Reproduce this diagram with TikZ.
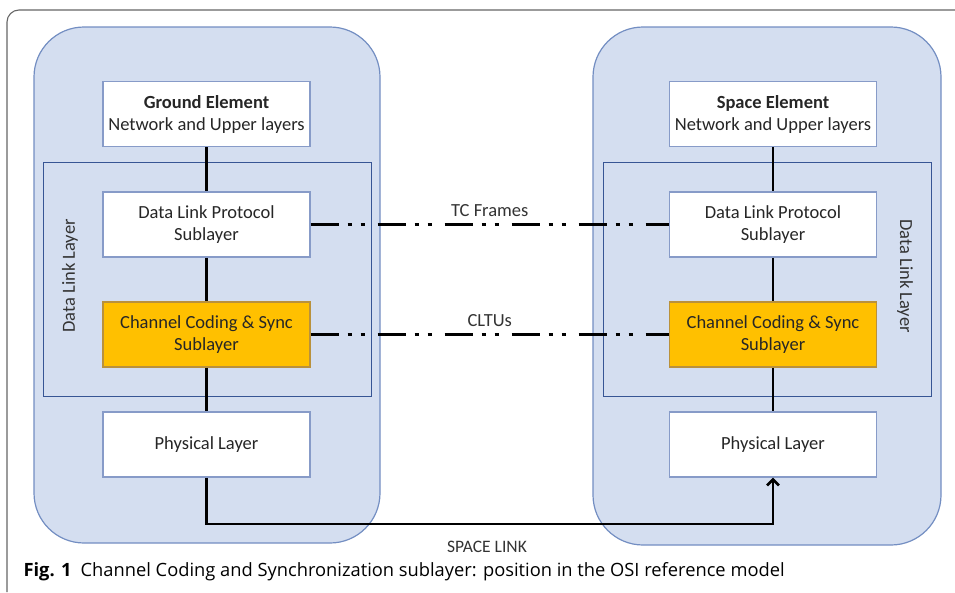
\documentclass[tikz,border=0pt]{standalone}
\usepackage{fontspec}
\setmainfont{Carlito}
\newfontfamily\capfont{Open Sans}
\usetikzlibrary{arrows.meta}

\definecolor{elemfill}{RGB}{212,222,240}
\definecolor{elemline}{RGB}{115,142,194}
\definecolor{dllline}{RGB}{55,85,148}
\definecolor{boxline}{RGB}{135,155,200}
\definecolor{ccfill}{RGB}{255,192,0}
\definecolor{ccline}{RGB}{185,145,60}

\begin{document}
\begin{tikzpicture}[x=1pt,y=-1pt,>={Straight Barb[length=6pt,width=12pt]},
  layer/.style={draw=boxline,fill=white,line width=1.2pt,minimum width=207pt,minimum height=65pt,
    inner sep=0pt,align=center,text=black!85,font=\fontsize{18.5}{22}\selectfont},
  link/.style={line width=2.6pt},
  frames/.style={line width=2.6pt,dash pattern=on 28pt off 9pt on 4pt off 9pt on 4pt off 13pt},
  lbl/.style={text=black!80,font=\fontsize{18.5}{22}\selectfont}]

\useasboundingbox (0,0) rectangle (955,592);

% figure frame
\draw[black!60,line width=1.1pt,rounded corners=12pt] (7,592) -- (7,10) -- (955,10);

% ground and space elements
\draw[fill=elemfill,draw=elemline,line width=1.2pt,rounded corners=50pt] (34,27) rectangle (380,543);
\draw[fill=elemfill,draw=elemline,line width=1.2pt,rounded corners=50pt] (593,27) rectangle (941,545);
\draw[draw=dllline,line width=1pt] (43,162) rectangle (371,396);
\draw[draw=dllline,line width=1pt] (603,162) rectangle (931,396);

\node[lbl,rotate=90] (g-dll) at (70,276) {Data Link Layer};
\node[lbl,rotate=-90] (s-dll) at (905,276) {Data Link Layer};

\foreach \s/\cx/\title in {g/206.5/Ground Element, s/773/Space Element} {
    \node[layer] (\s-top) at (\cx,114) {\textbf{\title}\\Network and Upper layers};
    \node[layer] (\s-dlp) at (\cx,224.5) {Data Link Protocol\\Sublayer};
    \node[layer,fill=ccfill,draw=ccline] (\s-cc) at (\cx,334.5) {Channel Coding \& Sync\\Sublayer};
    \node[layer] (\s-phy) at (\cx,444.5) {Physical Layer};
    \draw[link] (\s-top) -- (\s-dlp);
    \draw[link] (\s-dlp) -- (\s-cc);
    \draw[link] (\s-cc) -- (\s-phy);
}

% peer links
\draw[frames] (g-dlp) -- (s-dlp) node[lbl,midway,above=3pt]{TC Frames};
\draw[frames] (g-cc) -- (s-cc) node[lbl,midway,above=3pt]{CLTUs};

\coordinate (bend) at (g-phy.south |- 0,524);
\draw[link,->] (g-phy) -- (bend) -| (s-phy.south);
\node[lbl,font=\fontsize{17.5}{20}\selectfont] (spacelink) at (487,547) {SPACE LINK};

\node[anchor=west,font=\capfont\fontsize{18.3}{21}\selectfont] (caption) at (20,572)
    {\textbf{Fig. 1}\enspace Channel Coding and Synchronization sublayer: position in the OSI reference model};

\end{tikzpicture}
\end{document}
